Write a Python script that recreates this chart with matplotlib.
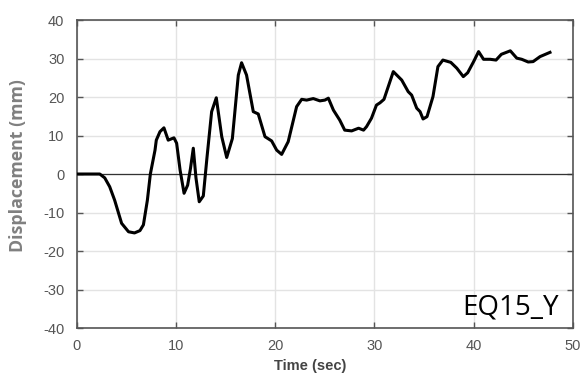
import matplotlib
matplotlib.use('Agg')
import matplotlib.pyplot as plt
import numpy as np

plt.rcParams['axes.unicode_minus'] = False

# displacement history, EQ15 Y direction
time_s = [0.0, 1.0, 2.0, 2.3, 2.8, 3.3, 3.8, 4.5, 5.2, 5.8, 6.35, 6.7, 7.1, 7.4,
          7.87, 8.0, 8.37, 8.77, 9.2, 9.78, 10.05, 10.4, 10.8, 11.16, 11.45, 11.73,
          12.0, 12.33, 12.74, 13.1, 13.58, 14.05, 14.6, 15.1, 15.67, 16.27, 16.6,
          17.1, 17.78, 18.28, 18.96, 19.63, 20.14, 20.64, 21.3, 22.15, 22.66, 23.16,
          23.83, 24.5, 25.0, 25.35, 25.86, 26.5, 27.0, 27.7, 28.4, 28.9, 29.2, 29.7,
          30.2, 30.56, 30.96, 31.9, 32.75, 33.4, 33.75, 34.26, 34.6, 34.9, 35.3,
          35.9, 36.4, 36.9, 37.7, 38.3, 38.96, 39.4, 40.0, 40.5, 41.0, 41.66, 42.26,
          42.8, 43.7, 44.35, 44.85, 45.5, 46.0, 46.7, 47.7]
disp_mm = [0.0, 0.0, 0.0, 0.0, -1.0, -3.3, -6.8, -12.8, -15.0, -15.3, -14.7, -13.2,
           -6.8, 0.0, 6.2, 8.8, 11.0, 12.0, 8.8, 9.4, 8.0, 1.0, -5.0, -2.9, 1.5, 6.7,
           -1.0, -7.2, -5.7, 4.0, 16.2, 19.8, 9.7, 4.3, 9.2, 25.7, 28.9, 25.7, 16.2,
           15.6, 9.7, 8.6, 6.2, 5.1, 8.4, 17.5, 19.4, 19.2, 19.6, 19.0, 19.2, 19.7,
           16.6, 14.0, 11.4, 11.2, 11.9, 11.4, 12.3, 14.5, 17.9, 18.5, 19.4, 26.6,
           24.4, 21.4, 20.5, 17.1, 16.2, 14.3, 14.9, 20.1, 27.9, 29.6, 29.0, 27.5,
           25.3, 26.3, 29.2, 31.8, 29.8, 29.8, 29.6, 31.1, 32.0, 30.1, 29.8, 29.1,
           29.2, 30.5, 31.6]

x_ticks = [0, 10, 20, 30, 40, 50]
y_ticks = [-40, -30, -20, -10, 0, 10, 20, 30, 40]

fig = plt.figure(figsize=(5.84, 3.85), dpi=100)
ax = fig.add_axes([0.1318, 0.148, 0.849, 0.800])

ax.grid(True, color='#e3e3e3', linewidth=1.0)
ax.set_axisbelow(True)
ax.axhline(0, color='#333333', linewidth=0.9, zorder=2)
ax.plot(time_s, disp_mm, color='black', linewidth=2.2, zorder=3)

ax.set_xlim(0, 50)
ax.set_ylim(-40, 40)
ax.set_xticks(x_ticks)
ax.set_yticks(y_ticks)
ax.tick_params(direction='in', length=4, colors='#555555', labelsize=10.5,
               top=True, right=True, width=1.0)
ax.tick_params(axis='y', pad=9)
ax.tick_params(axis='x', pad=8)
for lab in ax.get_xticklabels() + ax.get_yticklabels():
    lab.set_color('#555555')
    lab.set_family('Liberation Sans')
for sp in ax.spines.values():
    sp.set_color('#555555')
    sp.set_linewidth(1.2)

fig.text(0.030, 0.569, 'Displacement (mm)', rotation=90, ha='center', va='center',
         fontsize=12.8, fontweight='bold', color='#808080', family='Open Sans')
fig.text(0.531, 0.049, 'Time (sec)', ha='center', va='center',
         fontsize=10.5, fontweight='bold', color='#444444', family='Liberation Sans')
ax.text(0.972, 0.045, 'EQ15_Y', transform=ax.transAxes, ha='right', va='baseline',
        fontsize=20, color='black', family='Open Sans')

fig.savefig('out.png', dpi=100)
